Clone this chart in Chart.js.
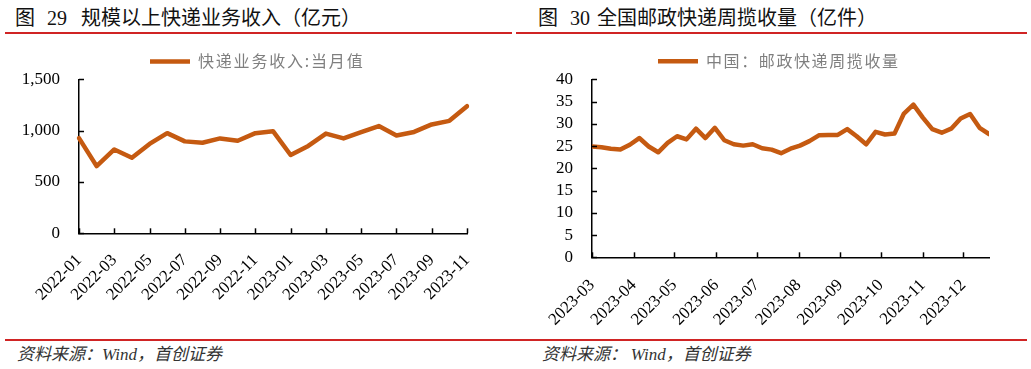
<!DOCTYPE html>
<html>
<head>
<meta charset="utf-8">
<script src="https://cdn.jsdelivr.net/npm/chart.js@4.4.0/dist/chart.umd.min.js"></script>
<style>
body { margin: 0; width: 1031px; height: 369px; position: relative; background: #fff; overflow: hidden; font-family: "Noto Sans CJK SC", sans-serif; }
.title { position: absolute; top: 6px; font-size: 20px; line-height: 22px; color: #111; white-space: nowrap; }
.num { font-family: "Liberation Serif", serif; }
.rule { position: absolute; height: 2px; background: #d02424; }
.src { position: absolute; top: 343px; font-size: 17px; line-height: 20px; font-style: italic; color: #333; white-space: nowrap; }
.src .w { font-family: "Liberation Serif", serif; }
canvas { position: absolute; }
</style>
</head>
<body>
<div class="title" style="left:15px">图<span class="num" style="margin-left:12px">29</span><span style="margin-left:14px">规模以上快递业务收入（亿元）</span></div>
<div class="title" style="left:538px">图<span class="num" style="margin-left:12px">30</span><span style="margin-left:7px">全国邮政快递周揽收量（亿件）</span></div>
<div class="rule" style="left:5px;width:507px;top:32px"></div>
<div class="rule" style="left:516px;width:511px;top:32px"></div>
<div class="rule" style="left:5px;width:1022px;top:339px"></div>
<div class="src" style="left:17px">资料来源：<span class="w">Wind</span>，首创证券</div>
<div class="src" style="left:542px">资料来源： <span class="w">Wind</span>，首创证券</div>

<canvas id="revChart" width="512" height="272" style="left:0;top:40px"></canvas>
<canvas id="volChart" width="514" height="295" style="left:517px;top:40px"></canvas>

<script>
// 规模以上快递业务收入：当月值（亿元）
const revMonths = ['2022-01', '2022-02', '2022-03', '2022-04', '2022-05', '2022-06', '2022-07', '2022-08',
    '2022-09', '2022-10', '2022-11', '2022-12', '2023-01', '2023-02', '2023-03', '2023-04', '2023-05',
    '2023-06', '2023-07', '2023-08', '2023-09', '2023-10', '2023-11'];
const revValues = [928, 655, 817, 737, 871, 976, 896, 883, 925, 902, 976, 995,
    763, 852, 972, 925, 985, 1045, 953, 988, 1061, 1096, 1239];
const revTicks = [0, 500, 1000, 1500];

// 中国：邮政快递周揽收量（亿件）
const volWeeks = ['2023-03-01', '2023-03-08', '2023-03-15', '2023-03-22', '2023-03-29',
    '2023-04-05', '2023-04-12', '2023-04-19', '2023-04-26',
    '2023-05-03', '2023-05-10', '2023-05-17', '2023-05-24', '2023-05-31',
    '2023-06-07', '2023-06-14', '2023-06-21', '2023-06-28',
    '2023-07-05', '2023-07-12', '2023-07-19', '2023-07-26',
    '2023-08-02', '2023-08-09', '2023-08-16', '2023-08-23', '2023-08-30',
    '2023-09-06', '2023-09-13', '2023-09-20', '2023-09-27',
    '2023-10-04', '2023-10-11', '2023-10-18', '2023-10-25',
    '2023-11-01', '2023-11-08', '2023-11-15', '2023-11-22', '2023-11-29',
    '2023-12-06', '2023-12-13', '2023-12-20'];
const volValues = [24.9, 24.75, 24.4, 24.2, 25.3, 26.8, 24.9, 23.6, 25.7, 27.2, 26.5, 28.9, 26.8, 29.1,
    26.3, 25.4, 25.1, 25.4, 24.5, 24.2, 23.4, 24.4, 25.1, 26.1, 27.4, 27.5, 27.5, 28.8, 27.2, 25.4,
    28.2, 27.6, 27.8, 32.3, 34.3, 31.4, 28.8, 28.0, 28.9, 31.2, 32.2, 29.1, 27.7];
const volMonths = ['2023-03', '2023-04', '2023-05', '2023-06', '2023-07', '2023-08', '2023-09', '2023-10', '2023-11', '2023-12'];
const volTicks = [0, 5, 10, 15, 20, 25, 30, 35, 40];

const lineColor = '#C55A11';
const tickFont = { family: 'Liberation Serif', size: 17 };

// short tick marks pointing into the plot, like the original
const innerTicks = {
    id: 'innerTicks',
    afterDatasetsDraw(chart) {
        const ctx = chart.ctx;
        ctx.save();
        ctx.strokeStyle = '#000';
        ctx.lineWidth = 1.5;
        ['x', 'y'].forEach(id => {
            const s = chart.scales[id];
            s.ticks.forEach((t, i) => {
                const p = Math.round(s.getPixelForTick(i)) + 0.5;
                ctx.beginPath();
                if (s.isHorizontal()) {
                    ctx.moveTo(p, s.top);
                    ctx.lineTo(p, s.top - 5);
                } else {
                    ctx.moveTo(s.right, p);
                    ctx.lineTo(s.right + 5, p);
                }
                ctx.stroke();
            });
        });
        ctx.restore();
    }
};

// put the legend where it sits in the original, with its wide letter spacing
const legendSpot = {
    id: 'legendSpot',
    afterLayout(chart, args, opts) {
        const lg = chart.legend;
        lg.left = opts.x - chart.options.plugins.legend.labels.padding;
        if (!lg._spaced) {
            const draw = lg.draw.bind(lg);
            lg.draw = function() {
                const c = this.ctx;
                c.save();
                c.letterSpacing = opts.spacing + 'px';
                draw();
                c.restore();
            };
            lg._spaced = true;
        }
    }
};

function legendOpts(pad) {
    return {
        align: 'start',
        labels: {
            usePointStyle: true,
            pointStyle: 'line',
            pointStyleWidth: 40,
            padding: pad,
            color: '#7f7f7f',
            font: { family: 'Noto Sans CJK SC', size: 16 }
        }
    };
}

function axisY(ticks, width) {
    return {
        min: ticks[0],
        max: ticks[ticks.length - 1],
        afterBuildTicks: s => { s.ticks = ticks.map(v => ({ value: v })); },
        afterFit: s => { s.width = width; },
        grid: { display: false, drawTicks: false },
        border: { display: true, color: '#000', width: 1.5 },
        ticks: {
            color: '#000',
            font: tickFont,
            padding: 19,
            autoSkip: false,
            callback: v => v.toLocaleString('en-US')
        }
    };
}

const xTickStyle = {
    color: '#000',
    font: tickFont,
    autoSkip: false,
    minRotation: 45,
    maxRotation: 45,
    padding: 17
};

new Chart(document.getElementById('revChart'), {
    type: 'line',
    data: {
        labels: revMonths,
        datasets: [{
            label: '快递业务收入:当月值',
            data: revValues,
            borderColor: lineColor,
            backgroundColor: lineColor,
            borderWidth: 4.5,
            borderCapStyle: 'round',
            borderJoinStyle: 'round',
            pointRadius: 0,
            tension: 0
        }]
    },
    options: {
        responsive: false,
        animation: false,
        devicePixelRatio: 1,
        layout: { padding: { top: 6, right: 45, left: 0, bottom: 0 } },
        plugins: {
            legend: legendOpts(7.4),
            legendSpot: { x: 150, spacing: 1.8 },
            tooltip: { enabled: false }
        },
        scales: {
            x: {
                afterBuildTicks: s => { s.ticks = s.ticks.filter((t, i) => i % 2 === 0); },
                afterFit: s => { s.height = 272 - 193.3; },
                grid: { display: false, drawTicks: false },
                border: { display: true, color: '#000', width: 1.5 },
                ticks: xTickStyle
            },
            y: axisY(revTicks, 79)
        }
    },
    plugins: [innerTicks, legendSpot]
});

new Chart(document.getElementById('volChart'), {
    type: 'line',
    data: {
        datasets: [{
            label: '中国：邮政快递周揽收量',
            data: volWeeks.map((d, i) => ({ x: Date.parse(d), y: volValues[i] })),
            borderColor: lineColor,
            backgroundColor: lineColor,
            borderWidth: 4.5,
            borderCapStyle: 'round',
            borderJoinStyle: 'round',
            pointRadius: 0,
            tension: 0
        }]
    },
    options: {
        responsive: false,
        animation: false,
        devicePixelRatio: 1,
        layout: { padding: { top: 1.6, right: 42, left: 0, bottom: 0 } },
        plugins: {
            legend: legendOpts(11.7),
            legendSpot: { x: 141, spacing: 1.6 },
            tooltip: { enabled: false }
        },
        scales: {
            x: {
                type: 'linear',
                min: Date.parse(volWeeks[0]),
                max: Date.parse(volWeeks[volWeeks.length - 1]),
                afterBuildTicks: s => { s.ticks = volMonths.map(m => ({ value: Date.parse(m + '-01') })); },
                afterFit: s => { s.height = 295 - 217.3; },
                grid: { display: false, drawTicks: false },
                border: { display: true, color: '#000', width: 1.5 },
                ticks: Object.assign({}, xTickStyle, {
                    padding: 18,
                    callback: v => new Date(v).toISOString().slice(0, 7)
                })
            },
            y: axisY(volTicks, 75)
        }
    },
    plugins: [innerTicks, legendSpot]
});
</script>
</body>
</html>
